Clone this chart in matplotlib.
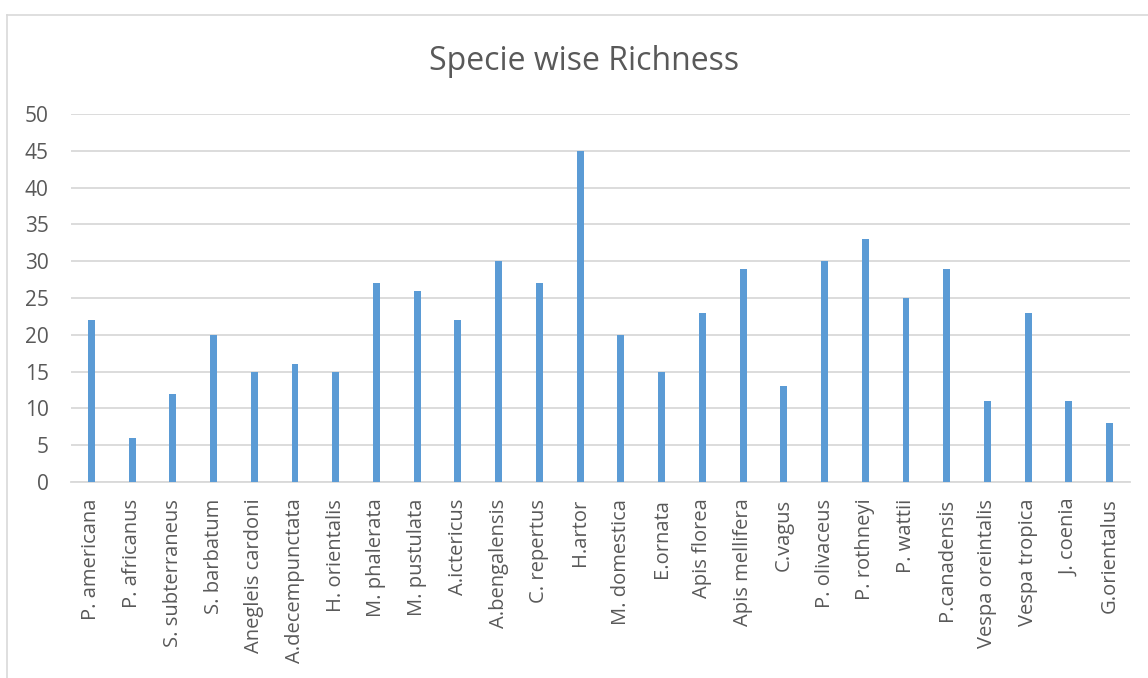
import matplotlib.pyplot as plt
from matplotlib.lines import Line2D

### Data

species = ['P. americana', 'P. africanus', 'S. subterraneus', 'S. barbatum',
           'Anegleis cardoni', 'A.decempunctata', 'H. orientalis', 'M. phalerata',
           'M. pustulata', 'A.ictericus', 'A.bengalensis', 'C. repertus', 'H.artor',
           'M. domestica', 'E.ornata', 'Apis florea', 'Apis mellifera', 'C.vagus',
           'P. olivaceus', 'P. rothneyi', 'P. wattii', 'P.canadensis',
           'Vespa oreintalis', 'Vespa tropica', 'J. coenia', 'G.orientalus']
richness = [22, 6, 12, 20, 15, 16, 15, 27, 26, 22, 30, 27, 45, 20, 15, 23, 29, 13,
            30, 33, 25, 29, 11, 23, 11, 8]
yticks = [0, 5, 10, 15, 20, 25, 30, 35, 40, 45, 50]

### Style

bar_color = '#5b9bd5'
grid_color = '#d9d9d9'
text_color = '#595959'
plt.rcParams['font.family'] = ['Open Sans', 'DejaVu Sans']

fig = plt.figure(figsize=(11.48, 6.78), dpi=100)
ax = fig.add_axes([71 / 1148, 1 - 482 / 678, (1130 - 71) / 1148, (482 - 114) / 678])

x = range(len(species))
ax.bar(x, richness, width=0.17, color=bar_color, zorder=3)

ax.set_xlim(-0.5, len(species) - 0.5)
ax.set_ylim(0, 50)
ax.set_yticks(yticks)
ax.set_xticks(list(x))
ax.set_xticklabels(species, rotation=90, fontsize=14.5, color=text_color)
ax.tick_params(axis='y', labelsize=15, labelcolor=text_color, length=0, pad=16)
ax.tick_params(axis='x', length=0, pad=12)
ax.yaxis.grid(True, color=grid_color, linewidth=1.3, zorder=0)
for side in ['top', 'right', 'left']:
    ax.spines[side].set_visible(False)
ax.spines['bottom'].set_color(grid_color)
ax.spines['bottom'].set_linewidth(1.3)

fig.text(584 / 1148, 1 - 61 / 678, 'Specie wise Richness', ha='center', va='center',
         fontsize=23, color=text_color)

# chart frame (left and top edges only visible)
fig.add_artist(Line2D([7 / 1148, 7 / 1148], [0, 1 - 15 / 678], transform=fig.transFigure,
                      color=grid_color, linewidth=1.2))
fig.add_artist(Line2D([7 / 1148, 1], [1 - 15 / 678, 1 - 15 / 678], transform=fig.transFigure,
                      color=grid_color, linewidth=1.2))

fig.savefig('out.png', dpi=100)
